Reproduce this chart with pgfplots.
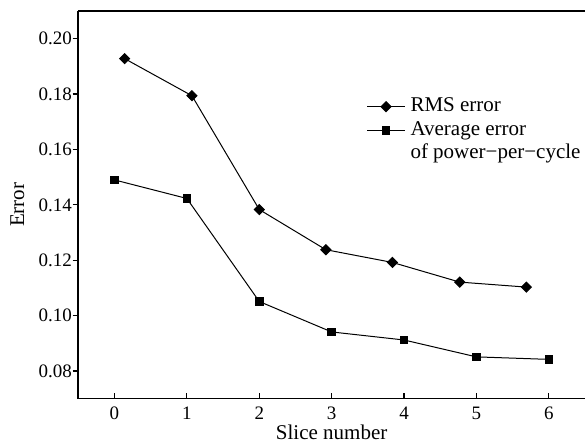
\documentclass[border=0pt]{standalone}
\usepackage{pgfplots}
\pgfplotsset{compat=1.18}
\usepackage{fontspec}
\setmainfont{Liberation Serif}

\begin{document}
\begin{tikzpicture}
\begin{axis}[
  scale only axis,
  width=506.7pt, height=387.7pt,
  xmin=-0.5, xmax=6.5, ymin=0.07, ymax=0.21,
  axis x line*=bottom, axis y line*=left,
  axis line style={line width=1.6pt},
  xtick={0,1,2,3,4,5,6},
  ytick={0.08,0.10,0.12,0.14,0.16,0.18,0.20},
  tick align=inside,
  major tick length=5.6pt,
  every tick/.style={black,line width=1.2pt},
  ytick style={xshift=-5.6pt},
  /pgf/number format/assume math mode=true,
  yticklabel style={/pgf/number format/fixed,/pgf/number format/fixed zerofill,/pgf/number format/precision=2,anchor=east,xshift=-3pt},
  xticklabel style={anchor=base,yshift=-21.3pt},
  tick label style={font=\fontsize{19}{19}\selectfont},
  xlabel={Slice number}, ylabel={Error},
  label style={font=\fontsize{21}{21}\selectfont},
  xlabel style={at={(axis description cs:0.5,0)},anchor=base,yshift=-40.5pt},
  ylabel style={at={(axis description cs:-0.1204,0.5)},anchor=center,rotate=0},
  legend style={draw=none,fill=none,at={(rel axis cs:0.5625,0.782)},anchor=north west,
    font=\fontsize{21}{21}\selectfont,row sep=5.5pt,column sep=5pt,
    nodes={inner sep=0pt,text height=14pt,text depth=4pt}},
  legend cell align=left,
  legend image code/.code={\draw[mark repeat=2,mark phase=2,#1] plot coordinates {(0pt,0pt) (19pt,0pt) (38pt,0pt)};},
]
\addplot[black,line width=1pt,mark=diamond*,mark size=5pt,mark options={xscale=1.333,solid}]
  coordinates {(0.14,0.1928) (1.07,0.1794) (2.00,0.1383) (2.92,0.1238) (3.84,0.1192) (4.77,0.1121) (5.69,0.1103)};
\addlegendentry{RMS error}
\addplot[black,line width=1pt,mark=square*,mark size=3.8pt,mark options={solid}]
  coordinates {(0,0.1490) (1,0.1423) (2,0.1051) (3,0.0941) (4,0.0912) (5,0.0851) (6,0.0842)};
\addlegendentry{Average error}
\addlegendimage{empty legend}
\addlegendentry{of power−per−cycle}
\end{axis}
\draw[line width=1.6pt] (current axis.north west) -- (current axis.north east);
\pgfresetboundingbox
\path ([shift={(-78.3pt,-44.3pt)}]current axis.south west) rectangle ([shift={(0pt,11pt)}]current axis.north east);
\end{tikzpicture}
\end{document}
